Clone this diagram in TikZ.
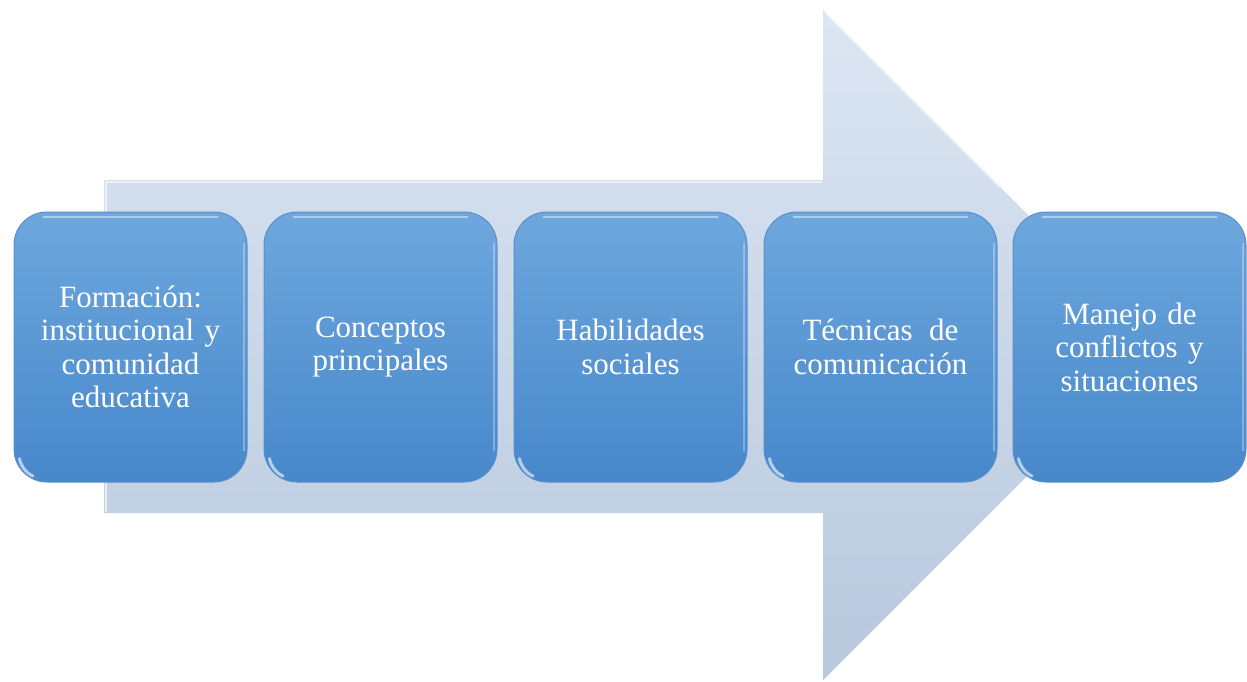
\documentclass[tikz,border=0pt]{standalone}
\usepackage{fontspec}
\setmainfont{Liberation Serif}
\definecolor{arrtop}{HTML}{DCE6F3}
\definecolor{arrbot}{HTML}{B8C8DD}
\definecolor{boxtop}{HTML}{6DA7DD}
\definecolor{boxbot}{HTML}{4788CB}
\definecolor{boxedge}{HTML}{5A8FCC}
\begin{document}
\begin{tikzpicture}[x=1pt,y=-1pt,
  stepbox/.style={rectangle, rounded corners=33pt, minimum width=233pt, minimum height=270pt,
    text width=226pt, inner sep=2pt, align=center, text=white,
    font=\fontsize{31}{33.5}\selectfont,
    top color=boxtop, bottom color=boxbot, draw=boxedge, line width=1pt},
  gloss/.style={white, opacity=0.45, line width=2pt, line cap=round},
  bigarrow/.style={top color=arrtop, bottom color=arrbot, draw=none}]
\useasboundingbox (0,0) rectangle (1247,681);
\path[bigarrow] (104,180) -- (823,180) -- (823,10) -- (1158,345) -- (823,680) -- (823,513) -- (104,513) -- cycle;
\draw[white, opacity=0.6, line width=1.5pt] (106,512) -- (106,182) -- (821,182) -- (821,14);
\draw[white, opacity=0.4, line width=1.5pt] (826,14) -- (1000,188);
\node[stepbox] (b1) at (130.5,347) {Formación:\\institucional y\\comunidad\\educativa};
\node[stepbox] (b2) at (380.5,347) {Conceptos\\principales};
\node[stepbox] (b3) at (630.5,347) {Habilidades\\sociales};
\node[stepbox] (b4) at (880.5,347) {Técnicas\hspace{0.2em} de\\comunicación};
\node[stepbox] (b5) at (1129.5,347) {Manejo de\\conflictos y\\situaciones};
\foreach \b in {b1,b2,b3,b4,b5}{
  \draw[gloss] ([xshift=30pt,yshift=-5pt]\b.north west) -- ([xshift=-30pt,yshift=-5pt]\b.north east);
  \draw[gloss, opacity=0.3] ([xshift=-4pt,yshift=-32pt]\b.north east) -- ([xshift=-4pt,yshift=32pt]\b.south east);
  \draw[white, opacity=0.6, line width=3pt, line cap=round] ([xshift=6pt,yshift=24pt]\b.south west) arc[start angle=190, end angle=245, radius=24pt];
}
\end{tikzpicture}
\end{document}
